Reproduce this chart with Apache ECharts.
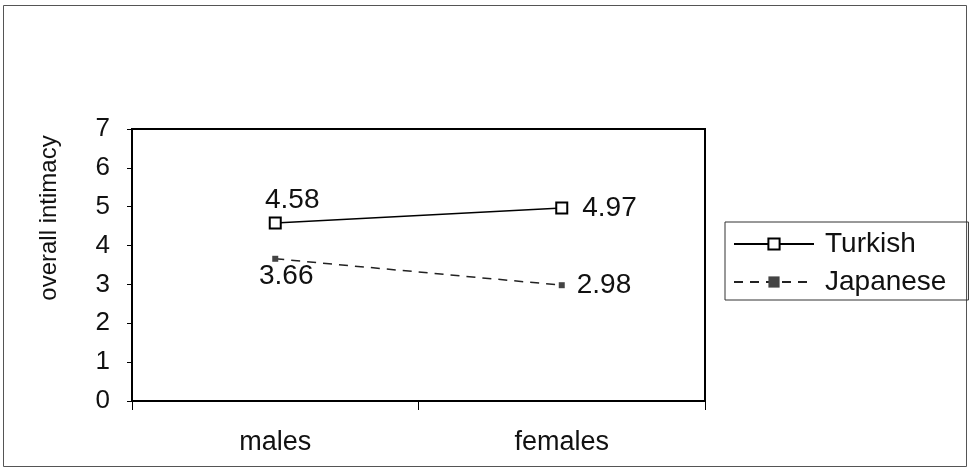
<!DOCTYPE html>
<html>
<head>
<meta charset="utf-8">
<script src="https://cdn.jsdelivr.net/npm/echarts@6/dist/echarts.min.js"></script>
<style>
html,body{margin:0;padding:0;background:#fff;}
#chart{width:970px;height:471px;}
</style>
</head>
<body>
<div id="chart"></div>
<script>
var categories = ['males', 'females'];
var turkish = [4.58, 4.97];
var japanese = [3.66, 2.98];
var seriesNames = ['Turkish', 'Japanese'];
var yTicks = [0, 1, 2, 3, 4, 5, 6, 7];
var yName = 'overall intimacy';

var FONT = 'Liberation Sans';
var chart = echarts.init(document.getElementById('chart'), null, {renderer: 'canvas'});
var option = {
  backgroundColor: '#fff',
  animation: false,
  graphic: [
    {type: 'rect', shape: {x: 3.5, y: 5.5, width: 963, height: 461}, style: {fill: 'none', stroke: '#555', lineWidth: 1}, silent: true},
    {type: 'text', x: 49, y: 218, rotation: Math.PI / 2,
     style: {text: yName, font: '24px "' + FONT + '"', fill: '#111', align: 'center', verticalAlign: 'middle'}}
  ],
  grid: {left: 132, right: 265, top: 129, bottom: 70, show: true, borderColor: '#000', borderWidth: 2, backgroundColor: 'transparent'},
  legend: {
    orient: 'vertical', left: 725, top: 222,
    data: seriesNames,
    itemWidth: 80, itemHeight: 14, itemGap: 10,
    padding: [8, 22, 4, 8],
    borderColor: '#333', borderWidth: 1,
    textStyle: {fontFamily: FONT, fontSize: 28, color: '#111', padding: [0, 0, 0, 6]}
  },
  xAxis: {
    type: 'category', data: categories, boundaryGap: true,
    axisLine: {lineStyle: {color: '#000', width: 2}},
    axisTick: {show: true, length: 9, lineStyle: {color: '#000', width: 1}},
    axisLabel: {margin: 28, fontFamily: FONT, fontSize: 27, color: '#111'}
  },
  yAxis: {
    type: 'value', min: yTicks[0], max: yTicks[yTicks.length - 1], interval: 1,
    splitLine: {show: false},
    axisLine: {show: true, lineStyle: {color: '#000', width: 2}},
    axisTick: {show: true, length: 5, lineStyle: {color: '#000', width: 1}},
    axisLabel: {margin: 22, fontFamily: FONT, fontSize: 26, color: '#111'}
  },
  series: [
    {
      name: seriesNames[0], type: 'line',
      symbol: 'emptyRect', symbolSize: 11,
      itemStyle: {color: '#000', borderWidth: 1.5},
      lineStyle: {color: '#000', width: 1.5, type: 'solid'},
      label: {show: true, fontFamily: FONT, fontSize: 28, color: '#111', formatter: function (p) { return p.value.toFixed(2); }},
      labelLayout: function (p) { return p.dataIndex === 0 ? {dx: 17} : {}; }
    },
    {
      name: seriesNames[1], type: 'line',
      symbol: 'rect', symbolSize: 6,
      itemStyle: {color: '#444'},
      lineStyle: {color: '#222', width: 1.5, type: [9, 7]},
      label: {show: true, fontFamily: FONT, fontSize: 28, color: '#111', formatter: function (p) { return p.value.toFixed(2); }},
      labelLayout: function (p) { return p.dataIndex === 0 ? {dx: 11, dy: 1} : {}; }
    }
  ]
};
option.series[0].data = turkish.map(function (v, i) {
  return {value: v, label: {position: i === 0 ? 'top' : 'right', distance: i === 0 ? 2 : 14}};
});
option.series[1].data = japanese.map(function (v, i) {
  return {value: v, label: {position: i === 0 ? 'bottom' : 'right', distance: i === 0 ? -1 : 12}};
});
chart.setOption(option);
</script>
</body>
</html>
